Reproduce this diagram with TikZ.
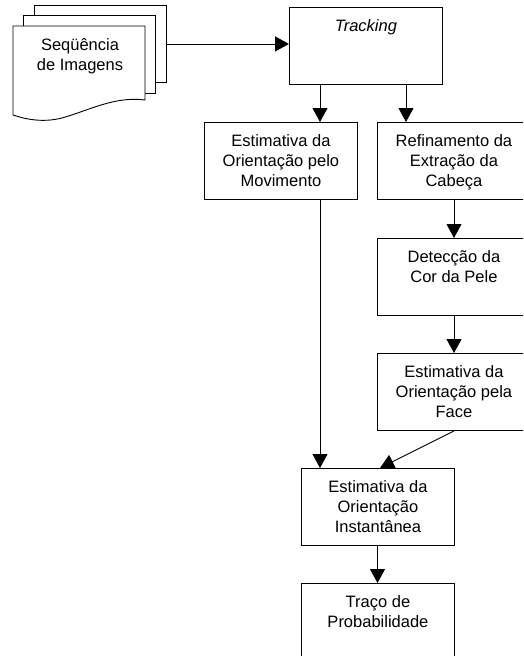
\documentclass[tikz,border=0pt]{standalone}
\usepackage{fontspec}
\setmainfont{Liberation Sans}
\usetikzlibrary{arrows.meta}

\newcommand{\caixa}[1]{\parbox[c][77pt][t]{153pt}{\centering\rule{0pt}{24.5pt}#1}}

\begin{document}
\begin{tikzpicture}[x=1pt, y=-1pt, line width=0.9pt,
	>={Triangle[length=14pt,width=15pt]},
	every node/.style={font=\fontsize{16.5}{20}\selectfont},
	etapa/.style={draw, rectangle, inner sep=0pt, anchor=north west, fill=white}]

\useasboundingbox (0,0) rectangle (523,656);
\clip (0,0) rectangle (523,656);

% pilha de imagens
\node[etapa, minimum width=132pt, minimum height=77pt](folha3) at(34,5) {};
\node[etapa, minimum width=132pt, minimum height=78pt](folha2) at(23,15) {};
\draw[fill=white] (13,26) -- (145,26) -- (145,100)
	.. controls (115,96) and (90,110) .. (62,118)
	.. controls (42,123) and (25,119) .. (13,115) -- cycle;
\node[align=center](sequencia) at(80,56) {Seqüência\\de Imagens};

\foreach \nome/\x/\y/\texto in {
	tracking/289/7/{\textit{Tracking}}
	,movimento/204/122/{Estimativa da\\Orientação pelo\\Movimento}
	,refinamento/377/122/{Refinamento da\\Extração da\\Cabeça}
	,deteccao/377/238/{Detecção da\\Cor da Pele}
	,face/377/353/{Estimativa da\\Orientação pela\\Face}
	,instantanea/301/468/{Estimativa da\\Orientação\\Instantânea}
	,traco/301/583/{Traço de\\Probabilidade}
}{
	\node[etapa](\nome) at(\x,\y) {\caixa{\texto}};
}

\draw[->] (folha3.east) -- (tracking.west |- folha3.east);

\foreach \u \v \x in {
tracking/movimento/320%
,tracking/refinamento/406%
,movimento/instantanea/320%
,refinamento/deteccao/454%
,deteccao/face/454%
,instantanea/traco/377.5%
}{
	\draw[->] (\u.south -| \x,0) -- (\v.north -| \x,0);
}

\draw[->] (face.south) -- (instantanea.north -| 380,0);

\end{tikzpicture}
\end{document}
